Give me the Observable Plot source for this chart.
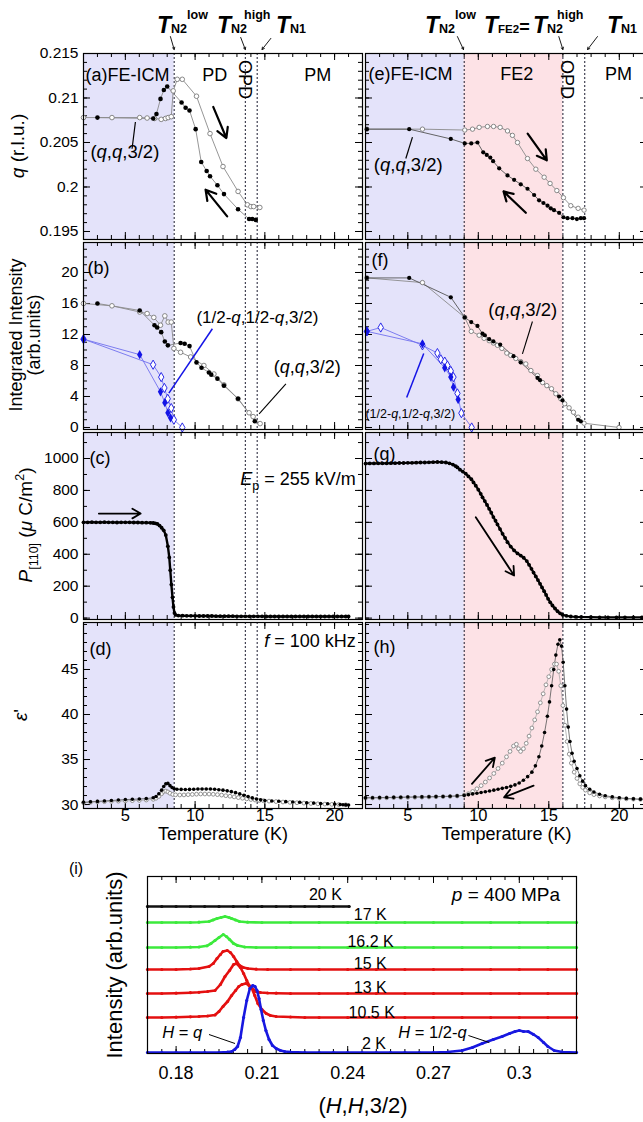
<!DOCTYPE html>
<html>
<head>
<meta charset="utf-8">
<script src="https://cdn.jsdelivr.net/npm/d3@7"></script>
<script src="https://cdn.jsdelivr.net/npm/@observablehq/plot@0.6"></script>
<style>
html, body { margin: 0; padding: 0; background: #fff; }
#fig { position: relative; width: 643px; height: 1122px; overflow: hidden; background: #fff; }
</style>
</head>
<body>
<div id="fig"></div>
<script>
const FONT = '"Liberation Sans", Arimo, Arial, Helvetica, sans-serif';

// ===== axis values / tick labels =====
const tempTicks = [5, 10, 15, 20];
const qTicks = [0.195, 0.2, 0.205, 0.21, 0.215];
const intTicks = [0, 4, 8, 12, 16, 20];
const polTicks = [0, 200, 400, 600, 800, 1000];
const epsTicks = [30, 35, 40, 45];
const hTicks = [0.18, 0.21, 0.24, 0.27, 0.3];

// ===== phase boundaries =====
const leftTransitions = [8.5, 13.6, 14.45];
const rightTransitions = [9.0, 16.0, 17.55];
const leftRegions = [{from: 2, to: 8.5, phase: "FE-ICM"}];
const rightRegions = [{from: 2, to: 9.0, phase: "FE-ICM"}, {from: 9.0, to: 16.0, phase: "FE2"}];
const leftPhaseLabels = [{t: 11.4, label: "PD"}, {t: 18.8, label: "PM"}];
const leftOPD = [{t: 14.03, label: "OPD"}];
const rightPhaseLabels = [{t: 12.73, label: "FE2"}, {t: 19.95, label: "PM"}];
const rightOPD = [{t: 16.78, label: "OPD"}];

// ===== (a) q vs T, ambient =====
const aOpen = [[2.0,0.2078],[4.04,0.2078],[6.03,0.2078],[6.56,0.20775],[7.09,0.2077],[7.57,0.2076],[7.88,0.2077],[8.07,0.2078],[8.29,0.2079],[8.43,0.2108],[8.72,0.2121],[9.08,0.2121],[10.1,0.2102],[11.07,0.2060],[12.0,0.2023],[13.08,0.1995],[13.75,0.1980],[14.0,0.1978],[14.2,0.1978],[14.64,0.1977]];
const aFilled = [[3.0,0.2078],[7.0,0.2077],[7.23,0.2082],[7.52,0.2099],[7.76,0.2109],[8.0,0.2113],[9.03,0.2095],[9.32,0.2089],[9.6,0.2086],[10.04,0.2065],[10.44,0.2028],[10.83,0.2018],[11.07,0.2012],[11.6,0.2002],[12.07,0.1992],[13.08,0.1975],[13.87,0.1964],[14.1,0.1964],[14.35,0.1963]];
// ===== (e) q vs T, 400 MPa =====
const eOpen = [[2.1,0.2065],[6.04,0.2065],[9.04,0.2064],[9.59,0.2065],[10.06,0.2067],[10.65,0.2068],[11.08,0.2068],[11.55,0.2067],[12.07,0.2063],[12.42,0.2058],[12.78,0.2050],[13.49,0.2032],[14.08,0.2020],[14.67,0.2011],[15.09,0.2004],[15.57,0.1996],[16.04,0.1988],[16.56,0.1979],[17.08,0.1976],[17.5,0.1974]];
const eFilled = [[2.1,0.2065],[5.1,0.2065],[8.05,0.2054],[9.04,0.2049],[9.5,0.2049],[9.94,0.2050],[10.35,0.2039],[10.6,0.2036],[10.85,0.2033],[11.05,0.2029],[11.48,0.2021],[12.07,0.2013],[12.54,0.2008],[13.01,0.2003],[13.49,0.1998],[13.96,0.1991],[14.31,0.1985],[14.62,0.1982],[14.91,0.1979],[15.14,0.1976],[15.37,0.1974],[15.73,0.1971],[16.04,0.1966],[16.33,0.1965],[16.68,0.1965],[16.99,0.1964],[17.27,0.1965],[17.5,0.1965]];

// ===== (b) integrated intensity, ambient =====
const bOpen = [[2.0,16.0],[4.04,15.7],[6.03,14.9],[6.56,14.7],[7.04,14.2],[7.52,13.2],[7.83,14.4],[8.07,13.6],[8.29,13.6],[8.48,10.2],[8.96,9.7],[9.68,9.1],[10.63,8.0],[11.35,6.9],[12.07,5.5],[13.08,3.7],[13.87,1.9],[14.16,1.4],[14.66,0.5]];
const bFilled = [[3.0,16.0],[6.03,15.1],[7.09,13.2],[7.28,12.9],[7.57,12.3],[7.83,11.1],[8.05,10.6],[8.96,10.9],[9.25,10.8],[9.6,10.5],[10.1,8.4],[10.46,7.7],[10.99,7.1],[11.16,6.8],[11.6,6.3],[12.07,5.4],[13.08,3.7],[14.28,0.8]];
const bBlueOpen = [[2.0,11.4],[6.99,8.1],[7.57,6.5],[7.8,5.1],[8.04,3.7],[8.29,2.5],[8.48,1.0],[9.08,0.0]];
const bBlueFilled = [[2.0,11.4],[6.03,9.4],[7.52,4.6],[7.83,3.2],[8.05,1.9],[8.24,1.25]];
// ===== (f) integrated intensity, 400 MPa =====
const fOpen = [[2.1,19.3],[6.04,18.7],[9.04,14.2],[9.5,12.4],[10.06,11.9],[10.41,11.5],[10.77,11.2],[11.07,10.9],[11.36,10.6],[11.67,10.2],[12.02,9.6],[12.3,9.3],[12.66,8.9],[13.01,8.5],[13.37,8.2],[13.73,7.35],[14.2,6.7],[14.56,5.8],[14.86,5.4],[15.19,5.0],[15.5,4.35],[15.85,3.7],[16.13,3.06],[16.44,2.54],[16.75,1.97],[17.08,1.33],[17.5,0.55],[19.98,0.0]];
const fFilled = [[2.1,19.3],[5.1,19.3],[8.05,16.8],[9.04,14.2],[9.5,13.6],[9.94,13.1],[10.3,12.1],[10.46,11.9],[10.77,11.4],[11.07,11.1],[11.55,10.7],[12.5,9.2],[13.01,8.4],[14.2,6.4],[14.38,6.1],[15.73,4.0],[15.97,3.5],[17.08,1.0],[17.27,0.8]];
const fBlueOpen = [[2.1,12.4],[3.08,12.9],[6.04,10.6],[7.1,9.6],[7.34,8.8],[7.62,8.5],[7.81,8.0],[8.05,7.3],[8.24,6.5],[8.52,4.4],[8.8,1.85],[9.53,0.0]];
const fBlueFilled = [[2.1,12.4],[6.04,10.8],[7.62,7.7],[8.05,6.5],[8.24,5.2],[8.57,3.6]];

// ===== (c) polarization, ambient =====
const cPol = [[2.0,600],[2.3,600],[2.6,601],[2.9,600],[3.2,600],[3.5,601],[3.8,600],[4.1,600],[4.4,599],[4.7,600],[5.0,600],[5.3,600],[5.6,599],[5.9,599],[6.2,598],[6.5,598],[6.8,597],[7.0,596],[7.15,594],[7.3,590],[7.45,580],[7.6,566],[7.75,550],[7.9,520],[8.05,450],[8.15,380],[8.22,300],[8.3,210],[8.38,130],[8.45,70],[8.52,32],[8.6,20],[8.8,16],[9.1,15],[9.4,14],[9.7,14],[10.0,14],[10.3,13],[10.6,13],[10.9,13],[11.2,13],[11.5,12],[11.8,12],[12.1,12],[12.4,12],[12.7,12],[13.0,11],[13.3,11],[13.6,11],[13.9,11],[14.2,11],[14.5,11],[14.8,11],[15.1,10],[15.4,10],[15.7,10],[16.0,10],[16.3,10],[16.6,10],[16.9,10],[17.2,10],[17.5,10],[17.8,10],[18.1,10],[18.4,10],[18.7,10],[19.0,10],[19.3,10],[19.6,10],[19.9,10],[20.2,10],[20.5,10],[20.8,10],[21.0,10]];
// ===== (g) polarization, 400 MPa =====
const gPol = [[2.0,968],[2.3,969],[2.6,969],[2.9,970],[3.2,970],[3.5,970],[3.8,971],[4.1,971],[4.4,972],[4.7,972],[5.0,973],[5.3,973],[5.6,974],[5.9,975],[6.2,975],[6.5,976],[6.8,977],[7.1,978],[7.4,977],[7.7,975],[7.95,970],[8.2,962],[8.4,952],[8.52,944],[8.7,930],[8.9,918],[9.11,905],[9.3,888],[9.51,870],[9.66,850],[9.82,830],[10.0,805],[10.17,779],[10.3,757],[10.46,733],[10.62,709],[10.77,685],[10.92,660],[11.07,633],[11.22,610],[11.36,587],[11.54,558],[11.72,528],[11.9,502],[12.07,476],[12.3,448],[12.54,424],[12.78,405],[13.01,392],[13.22,378],[13.44,357],[13.6,334],[13.77,309],[13.92,285],[14.08,261],[14.23,238],[14.38,215],[14.52,192],[14.67,169],[14.81,145],[14.95,121],[15.1,99],[15.26,79],[15.44,60],[15.62,43],[15.8,30],[15.97,21],[16.25,14],[16.56,10],[16.9,8],[17.3,7],[17.98,6],[18.6,5],[19.2,5],[19.8,5],[20.4,5],[21.0,5],[21.6,5],[22.0,5]];

// ===== (d) dielectric constant, ambient =====
const dFilled = [[2.0,30.25],[2.5,30.3],[3.0,30.35],[3.5,30.4],[4.0,30.45],[4.5,30.5],[5.0,30.55],[5.5,30.58],[6.0,30.62],[6.5,30.66],[7.0,30.75],[7.2,30.9],[7.4,31.2],[7.6,31.6],[7.75,32.0],[7.9,32.3],[8.05,32.35],[8.2,32.1],[8.35,31.9],[8.5,31.75],[8.7,31.7],[9.0,31.68],[9.3,31.67],[9.6,31.68],[9.9,31.7],[10.2,31.72],[10.5,31.73],[10.8,31.73],[11.1,31.72],[11.4,31.7],[11.7,31.65],[12.0,31.6],[12.3,31.52],[12.6,31.43],[12.9,31.32],[13.2,31.18],[13.5,31.03],[13.8,30.88],[14.1,30.74],[14.4,30.62],[14.7,30.52],[15.0,30.45],[15.5,30.4],[16.0,30.36],[16.5,30.32],[17.0,30.28],[17.5,30.25],[18.0,30.2],[18.5,30.16],[19.0,30.12],[19.5,30.08],[20.0,30.05],[20.4,30.0],[20.6,29.98],[20.8,29.96],[21.0,29.95]];
const dOpen = [[2.0,30.2],[2.5,30.25],[3.0,30.3],[3.5,30.32],[4.0,30.35],[4.5,30.38],[5.0,30.4],[5.5,30.43],[6.0,30.46],[6.5,30.5],[7.0,30.58],[7.2,30.7],[7.4,30.9],[7.6,31.2],[7.75,31.45],[7.9,31.5],[8.05,31.4],[8.2,31.25],[8.4,31.12],[8.6,31.08],[8.9,31.06],[9.2,31.07],[9.5,31.1],[9.8,31.12],[10.1,31.15],[10.4,31.17],[10.7,31.17],[11.0,31.16],[11.3,31.14],[11.6,31.1],[11.9,31.05],[12.2,30.98],[12.5,30.92],[12.8,30.85],[13.1,30.77],[13.4,30.7],[13.7,30.63],[14.0,30.56],[14.3,30.5],[14.6,30.45],[14.9,30.42],[15.3,30.38],[15.8,30.33],[16.3,30.28],[16.8,30.24],[17.3,30.2],[17.8,30.16],[18.3,30.12],[18.8,30.08],[19.3,30.05],[19.8,30.02],[20.3,30.0],[20.8,29.97]];
// ===== (h) dielectric constant, 400 MPa =====
const hFilled = [[2.0,30.75],[2.5,30.76],[3.0,30.77],[3.5,30.78],[4.0,30.8],[4.5,30.81],[5.0,30.83],[5.5,30.84],[6.0,30.85],[6.5,30.86],[7.0,30.88],[7.5,30.9],[8.0,30.92],[8.5,30.96],[9.0,31.02],[9.3,31.1],[9.6,31.18],[9.9,31.26],[10.2,31.34],[10.5,31.42],[10.8,31.5],[11.1,31.6],[11.4,31.7],[11.7,31.8],[12.0,31.9],[12.3,32.02],[12.6,32.18],[12.9,32.4],[13.2,32.7],[13.5,33.1],[13.8,33.6],[14.05,34.3],[14.3,35.3],[14.5,36.5],[14.7,38.0],[14.9,39.8],[15.05,41.4],[15.2,43.2],[15.35,45.0],[15.5,46.6],[15.65,47.8],[15.78,48.3],[15.9,47.6],[16.02,45.8],[16.14,43.2],[16.26,40.6],[16.38,38.6],[16.5,37.0],[16.65,35.7],[16.8,34.8],[17.0,34.0],[17.2,33.2],[17.4,32.6],[17.6,32.1],[17.9,31.7],[18.2,31.4],[18.6,31.15],[19.0,30.98],[19.5,30.85],[20.0,30.75],[20.5,30.68],[21.0,30.63],[21.5,30.6],[22.0,30.58]];
const hOpen = [[2.0,30.72],[2.5,30.73],[3.0,30.74],[3.5,30.75],[4.0,30.77],[4.5,30.78],[5.0,30.8],[5.5,30.81],[6.0,30.82],[6.5,30.84],[7.0,30.86],[7.5,30.88],[8.0,30.9],[8.5,30.95],[9.0,31.05],[9.3,31.2],[9.6,31.45],[9.9,31.75],[10.2,32.1],[10.5,32.5],[10.8,32.95],[11.1,33.45],[11.4,34.0],[11.7,34.6],[12.0,35.3],[12.25,35.9],[12.5,36.5],[12.7,36.7],[12.85,36.2],[13.0,35.9],[13.2,36.2],[13.4,36.8],[13.6,37.6],[13.8,38.5],[14.0,39.4],[14.2,40.3],[14.4,41.3],[14.6,42.3],[14.8,43.3],[15.0,44.2],[15.2,45.0],[15.4,45.6],[15.55,45.6],[15.7,44.8],[15.85,43.2],[16.0,41.0],[16.15,38.8],[16.3,37.0],[16.45,35.6],[16.6,34.6],[16.8,33.6],[17.0,32.9],[17.2,32.3],[17.4,31.9],[17.6,31.6],[17.9,31.3],[18.2,31.1],[18.6,30.95],[19.0,30.85],[19.5,30.75],[20.0,30.68],[20.5,30.63],[21.0,30.6],[21.5,30.58],[22.0,30.56]];

// ===== (i) (H,H,3/2) scans at p = 400 MPa =====
const scanLabels = ["20 K", "17 K", "16.2 K", "15 K", "13 K", "10.5 K", "2 K"];
const scan20K = [[0.170,0],[0.175,0],[0.180,0],[0.185,0],[0.190,0],[0.195,0],[0.200,0],[0.205,0],[0.210,0],[0.215,0],[0.220,0],[0.225,0],[0.230,0],[0.235,0],[0.2405,0]];
const scan17K = [[0.170,0],[0.175,0],[0.180,0],[0.185,0],[0.188,0.3],[0.1915,1],[0.1929,2.5],[0.1943,4],[0.1957,5],[0.1971,6],[0.1985,5],[0.1994,4],[0.2008,2.5],[0.2022,1],[0.205,0.3],[0.210,0],[0.220,0],[0.230,0],[0.240,0],[0.250,0],[0.260,0],[0.270,0],[0.280,0],[0.290,0],[0.300,0],[0.310,0],[0.320,0]];
const scan16K = [[0.170,0],[0.175,0],[0.180,0],[0.185,0.3],[0.188,0.5],[0.1908,1.7],[0.1922,4],[0.1936,7],[0.1950,10],[0.1965,13],[0.1976,11],[0.1987,8],[0.2001,4],[0.2015,2],[0.204,0.5],[0.208,0],[0.215,0],[0.220,0],[0.230,0],[0.240,0],[0.250,0],[0.260,0],[0.270,0],[0.280,0],[0.290,0],[0.300,0],[0.310,0],[0.320,0]];
const scan15K = [[0.170,0],[0.175,0],[0.180,0],[0.185,0.5],[0.188,1],[0.1915,3],[0.1930,6],[0.1943,11],[0.1955,15],[0.1964,18],[0.1979,19],[0.1990,17],[0.2001,13],[0.2012,8],[0.2022,4],[0.2035,2],[0.2051,1],[0.208,0.3],[0.212,0],[0.220,0],[0.230,0],[0.240,0],[0.250,0],[0.260,0],[0.270,0],[0.280,0],[0.290,0],[0.300,0],[0.310,0],[0.320,0]];
const scan13K = [[0.170,0],[0.175,0],[0.180,0.3],[0.185,0.8],[0.188,1.2],[0.191,2],[0.1936,3],[0.1955,9],[0.1971,17],[0.1987,23],[0.2001,29],[0.2012,30],[0.2025,26],[0.2036,20],[0.2047,13],[0.2058,7],[0.2070,4],[0.2079,2],[0.2095,1],[0.212,0.5],[0.215,0.3],[0.220,0],[0.230,0],[0.240,0],[0.250,0],[0.260,0],[0.270,0],[0.280,0],[0.290,0],[0.300,0],[0.310,0],[0.320,0]];
const scan10K = [[0.170,0],[0.175,0],[0.180,0.3],[0.185,0.7],[0.188,1],[0.191,1.5],[0.1936,2.5],[0.1950,6],[0.1964,11],[0.1980,16],[0.1994,22],[0.2008,27],[0.2019,31],[0.2030,33],[0.2044,34],[0.2055,32],[0.2065,29],[0.2075,22],[0.2086,14],[0.2100,8],[0.2115,4],[0.2130,2],[0.2150,1],[0.220,0.5],[0.225,0],[0.230,0],[0.240,0],[0.250,0],[0.260,0],[0.270,0],[0.280,0],[0.290,0],[0.300,0],[0.310,0],[0.320,0]];
const scan2K = [[0.170,0],[0.175,0],[0.180,0],[0.185,0],[0.190,0],[0.195,0],[0.198,0.5],[0.1994,1],[0.2005,3],[0.2015,6],[0.2025,15],[0.2036,35],[0.2047,52],[0.2058,64],[0.2068,67],[0.2076,66],[0.2083,62],[0.2090,54],[0.2097,43],[0.2105,32],[0.2114,22],[0.2125,13],[0.2137,7],[0.2150,4],[0.2165,2],[0.218,1],[0.220,0.5],[0.225,0],[0.230,0],[0.235,0],[0.240,0],[0.245,0],[0.250,0],[0.255,0],[0.260,0],[0.265,0],[0.270,0],[0.275,0.5],[0.280,2],[0.2836,5],[0.2870,9],[0.2909,13],[0.2940,16],[0.2966,19],[0.2985,21],[0.3000,22],[0.3015,21],[0.3031,21],[0.3050,18],[0.3066,15],[0.3085,10],[0.3100,6],[0.3122,2],[0.315,0.5],[0.320,0]];
const scans = [scan20K, scan17K, scan16K, scan15K, scan13K, scan10K, scan2K];
const scanOffsets = [147, 131, 106, 84, 60, 36, 1];
const scanColors = ["#111111", "#3cea3c", "#3cea3c", "#e41010", "#e41010", "#e41010", "#1818e0"];
const scanLabelPos = [[0.2322,159],[0.2479,139],[0.2480,112],[0.2479,90],[0.2479,66],[0.2484,41],[0.2492,10]];

// ===== annotation arrows / leader lines (data coordinates) =====
const aArrows = [{t1: 11.3, v1: 0.2090, t2: 12.24, v2: 0.2055}, {t1: 12.3, v1: 0.1967, t2: 10.75, v2: 0.1997}];
const eArrows = [{t1: 13.5, v1: 0.2060, t2: 14.86, v2: 0.2030}, {t1: 13.37, v1: 0.1971, t2: 11.79, v2: 0.1995}];
const cArrows = [{t1: 3.1, v1: 655, t2: 6.1, v2: 655}];
const gArrows = [{t1: 9.82, v1: 632, t2: 12.54, v2: 267}];
const hArrows = [{t1: 9.55, v1: 32.3, t2: 11.17, v2: 35.2}, {t1: 13.92, v1: 32.1, t2: 11.83, v2: 30.8}];
const topArrowsLeft = [{t1: 8.23, v1: 0.2169, t2: 8.5, v2: 0.21545}, {t1: 13.27, v1: 0.2168, t2: 13.6, v2: 0.21545}, {t1: 15.43, v1: 0.2167, t2: 14.8, v2: 0.21545}];
const topArrowsRight = [{t1: 8.52, v1: 0.2169, t2: 8.95, v2: 0.21545}, {t1: 15.71, v1: 0.2169, t2: 16.0, v2: 0.21545}, {t1: 18.45, v1: 0.2169, t2: 17.75, v2: 0.21545}];
const aLeaders = [{t1: 5.48, v1: 0.2043, t2: 5.72, v2: 0.2073}];
const eLeaders = [{t1: 4.86, v1: 0.2032, t2: 5.33, v2: 0.2056}];
const bBlueLeaders = [{t1: 11.24, v1: 12.74, t2: 8.12, v2: 4.43}];
const bLeaders = [{t1: 16.51, v1: 5.64, t2: 14.59, v2: 1.77}];
const fLeaders = [{t1: 13.84, v1: 13.68, t2: 13.13, v2: 9.5}];
const fBlueLeaders = [{t1: 6.13, v1: 9.55, t2: 4.92, v2: 3.87}];
const iLeaders = [{t1: 0.1915, v1: 19, t2: 0.2006, v2: 10}, {t1: 0.2822, v1: 18, t2: 0.2895, v2: 11}];

// ===== styling =====
const COL = {icm: "#e4e3fa", fe2: "#fde2e6", line: "#8a8a8a", open: "#7a7a7a", blue: "#1414e6", blueLine: "#7070ee"};
const fig = document.getElementById("fig");
const PAD = 70;
const rangeIn = (a, b, s) => d3.range(Math.ceil(a / s - 1e-6), Math.floor(b / s + 1e-6) + 1).map(k => +(k * s).toFixed(6));

function panel(o) {
  const fw = o.w, fh = o.h;
  const st = {stroke: "#000", strokeWidth: 1};
  const tx = (vals, len) => [
    Plot.tickX(vals, {x: d => d, insetTop: fh - len, ...st}),
    Plot.tickX(vals, {x: d => d, insetBottom: fh - len, ...st})
  ];
  const ty = (vals, len) => [
    Plot.tickY(vals, {y: d => d, insetRight: fw - len, ...st}),
    Plot.tickY(vals, {y: d => d, insetLeft: fw - len, ...st})
  ];
  const ticks = [];
  if (o.xMinor) ticks.push(...tx(o.xMinor, 4));
  if (o.xMajor) ticks.push(...tx(o.xMajor, 7));
  if (o.yMinor) ticks.push(...ty(o.yMinor, 4));
  if (o.yMajor) ticks.push(...ty(o.yMajor, 7));
  const labels = [];
  if (o.yLabels) labels.push(Plot.text(o.yMajor, {y: d => d, text: d => String(d), frameAnchor: "left", dx: -5, textAnchor: "end", fontSize: 15.5, fill: "#000"}));
  if (o.xLabels) labels.push(Plot.text(o.xLabels, {x: d => d, text: d => String(d), frameAnchor: "bottom", dy: o.xLabelDy || 12, fontSize: o.xLabelSize || 16.5, fill: "#000"}));
  if (o.xTitle) labels.push(Plot.text([o.xTitle], {text: d => d, frameAnchor: "bottom", dy: o.xTitleDy || 31, fontSize: o.xTitleSize || 18, fill: "#000"}));
  const regions = (o.regions || []).map(r => Plot.rect([r], {x1: "from", x2: "to", y1: o.y[0], y2: o.y[1], fill: r.phase === "FE2" ? COL.fe2 : COL.icm}));
  const rules = o.transitions ? [Plot.ruleX(o.transitions, {x: d => d, stroke: "#1a1a2e", strokeWidth: 1, strokeDasharray: "2,2"})] : [];
  const plot = Plot.plot({
    width: fw + 2 * PAD, height: fh + 2 * PAD,
    marginLeft: PAD, marginRight: PAD, marginTop: PAD, marginBottom: PAD,
    x: {domain: o.x, axis: null}, y: {domain: o.y, axis: null},
    marks: [...regions, ...rules, ...ticks, ...(o.marks || []), ...labels, Plot.frame({stroke: "#000", strokeWidth: 1.2})]
  });
  plot.setAttribute("style", `position:absolute;left:${o.left - PAD}px;top:${o.top - PAD}px;background:none;overflow:visible;max-width:none;height:auto;font-family:${FONT};`);
  fig.appendChild(plot);
  const sx = plot.scale("x"), sy = plot.scale("y");
  const X = d3.scaleLinear(sx.domain, sx.range), Y = d3.scaleLinear(sy.domain, sy.range);
  return {px: (t, v) => [o.left - PAD + X(t), o.top - PAD + Y(v)]};
}

const P = d => d[0], V = d => d[1];
const line = (data, stroke, w = 0.9) => Plot.line(data, {x: P, y: V, stroke, strokeWidth: w});
const dotsFilled = (data, r = 2.3, fill = "#000") => Plot.dot(data, {x: P, y: V, r, fill, stroke: "none"});
const dotsOpen = (data, r = 2.3, stroke = COL.open) => Plot.dot(data, {x: P, y: V, r, fill: "#fff", stroke, strokeWidth: 0.9});
const arrows = (data, w = 2.2, head = 9) => Plot.arrow(data, {x1: "t1", y1: "v1", x2: "t2", y2: "v2", stroke: "#000", strokeWidth: w, headLength: head});
const links = (data, stroke = "#000", w = 1.2) => Plot.link(data, {x1: "t1", y1: "v1", x2: "t2", y2: "v2", stroke, strokeWidth: w});
const label = (txt, dx, dy, size = 18) => Plot.text([txt], {text: d => d, frameAnchor: "top-left", textAnchor: "start", dx, dy, fontSize: size, fill: "#000"});
const phaseText = (data, dy, rotate = 0) => Plot.text(data, {x: "t", text: "label", frameAnchor: "top", dy, rotate, fontSize: 18, fill: "#000"});

const L = {left: 83, w: 279}, R = {left: 365, w: 282};
const rows = {a: {top: 53, h: 186}, b: {top: 242, h: 187}, c: {top: 432, h: 187}, d: {top: 622, h: 186}};
const dom = {a: [0.1941, 0.215], b: [-0.26, 23.87], c: [-8.8, 1163], d: [29.56, 50.22]};
const tMinor = rangeIn(2, 22, 1);
const minors = {a: rangeIn(0.1941, 0.215, 0.001), b: rangeIn(0, 23.87, 1), c: rangeIn(0, 1163, 100), d: rangeIn(29.56, 50.22, 1)};

// ----- (a)
const pa = panel({...L, ...rows.a, x: [2, 22], y: dom.a, regions: leftRegions, transitions: leftTransitions,
  xMajor: tempTicks, xMinor: tMinor, yMajor: qTicks, yMinor: minors.a, yLabels: true,
  marks: [line(aOpen, COL.line), line(aFilled, COL.line), dotsOpen(aOpen), dotsFilled(aFilled),
    arrows(aArrows), links(aLeaders), arrows(topArrowsLeft, 0.9, 4),
    label("(a)FE-ICM", 2, 14.5), phaseText(leftPhaseLabels, 14.5), phaseText(leftOPD, 26, 90)]});
// ----- (e)
const pe = panel({...R, ...rows.a, x: [2, 22], y: dom.a, regions: rightRegions, transitions: rightTransitions,
  xMajor: tempTicks, xMinor: tMinor, yMajor: qTicks, yMinor: minors.a,
  marks: [line(eOpen, COL.line), line(eFilled, "#555"), dotsOpen(eOpen, 2.2), dotsFilled(eFilled, 2.1),
    arrows(eArrows), links(eLeaders), arrows(topArrowsRight, 0.9, 4),
    label("(e)FE-ICM", 3, 13.5), phaseText(rightPhaseLabels, 13.5), phaseText(rightOPD, 26, 90)]});
// ----- (b)
const pb = panel({...L, ...rows.b, x: [2, 22], y: dom.b, regions: leftRegions, transitions: leftTransitions,
  xMajor: tempTicks, xMinor: tMinor, yMajor: intTicks, yMinor: minors.b, yLabels: true,
  marks: [line(bOpen, COL.line), line(bFilled, COL.line), line(bBlueOpen, COL.blueLine), line(bBlueFilled, COL.blueLine),
    dotsOpen(bOpen), dotsFilled(bFilled),
    Plot.dot(bBlueOpen, {x: P, y: V, r: 2.8, symbol: "diamond", fill: "#fff", stroke: COL.blue, strokeWidth: 0.9}),
    Plot.dot(bBlueFilled, {x: P, y: V, r: 2.8, symbol: "diamond", fill: COL.blue}),
    links(bBlueLeaders, COL.blue, 1.5), links(bLeaders, "#000", 1.1), label("(b)", 4, 19)]});
// ----- (f)
const pf = panel({...R, ...rows.b, x: [2, 22], y: dom.b, regions: rightRegions, transitions: rightTransitions,
  xMajor: tempTicks, xMinor: tMinor, yMajor: intTicks, yMinor: minors.b,
  marks: [line(fOpen, COL.line), line(fFilled, "#555"), line(fBlueOpen, COL.blueLine), line(fBlueFilled, COL.blueLine),
    dotsOpen(fOpen, 2.2), dotsFilled(fFilled, 2.1),
    Plot.dot(fBlueOpen, {x: P, y: V, r: 2.8, symbol: "diamond", fill: "#fff", stroke: COL.blue, strokeWidth: 0.9}),
    Plot.dot(fBlueFilled, {x: P, y: V, r: 2.8, symbol: "diamond", fill: COL.blue}),
    links(fBlueLeaders, COL.blue, 1.5), links(fLeaders, "#000", 1.1), label("(f)", 6, 11)]});
// ----- (c)
const pc = panel({...L, ...rows.c, x: [2, 22], y: dom.c, regions: leftRegions, transitions: leftTransitions,
  xMajor: tempTicks, xMinor: tMinor, yMajor: polTicks, yMinor: minors.c, yLabels: true,
  marks: [line(cPol, "#000", 2.4), dotsFilled(cPol, 1.9), arrows(cArrows, 1.8, 8), label("(c)", 6, 19)]});
// ----- (g)
const pg = panel({...R, ...rows.c, x: [2, 22], y: dom.c, regions: rightRegions, transitions: rightTransitions,
  xMajor: tempTicks, xMinor: tMinor, yMajor: polTicks, yMinor: minors.c,
  marks: [line(gPol, "#000", 2.2), dotsFilled(gPol, 1.9), arrows(gArrows, 1.8, 8), label("(g)", 8, 15)]});
// ----- (d)
const pd = panel({...L, ...rows.d, x: [2, 22], y: dom.d, regions: leftRegions, transitions: leftTransitions,
  xMajor: tempTicks, xMinor: tMinor, yMajor: epsTicks, yMinor: minors.d, yLabels: true,
  xLabels: tempTicks, xTitle: "Temperature (K)",
  marks: [line(dOpen, "#aaa", 0.8), line(dFilled, "#555", 0.8), dotsOpen(dOpen, 1.9, "#888"), dotsFilled(dFilled, 1.8), label("(d)", 6, 20)]});
// ----- (h)
const ph = panel({...R, ...rows.d, x: [2, 22], y: dom.d, regions: rightRegions, transitions: rightTransitions,
  xMajor: tempTicks, xMinor: tMinor, yMajor: epsTicks, yMinor: minors.d,
  xLabels: tempTicks, xTitle: "Temperature (K)",
  marks: [line(hOpen, "#aaa", 0.8), line(hFilled, "#555", 0.8), dotsOpen(hOpen, 1.9, "#888"), dotsFilled(hFilled, 1.8),
    arrows(hArrows, 1.8, 8), label("(h)", 8, 18)]});
// ----- (i)
const scanMarks = [];
scans.forEach((s, k) => {
  const off = scanOffsets[k], c = scanColors[k];
  scanMarks.push(Plot.line(s, {x: P, y: d => d[1] + off, stroke: c, strokeWidth: 2.6}));
  scanMarks.push(Plot.dot(s, {x: P, y: d => d[1] + off, r: 1.6, fill: c}));
});
const scanText = Plot.text(scanLabels, {x: (d, i) => scanLabelPos[i][0], y: (d, i) => scanLabelPos[i][1], text: d => d, fontSize: 16, fill: "#000"});
const pi = panel({left: 147, top: 876, w: 429, h: 177, x: [0.17, 0.32], y: [0, 177],
  xMajor: hTicks, xMinor: rangeIn(0.17, 0.32, 0.005), xLabels: hTicks, xLabelDy: 25, xLabelSize: 18,
  xTitle: null,
  marks: [...scanMarks, scanText, links(iLeaders, "#000", 1)]});

// ===== overlay text (rich: italics, sub/superscripts) =====
const ov = d3.select(fig).append("svg").attr("width", 643).attr("height", 1122)
  .attr("style", `position:absolute;left:0;top:0;overflow:visible;font-family:${FONT};`);
function rich(x, y, segs, o = {}) {
  const size = o.size || 16;
  const text = ov.append("text")
    .attr("transform", `translate(${x},${y})${o.rotate ? ` rotate(${o.rotate})` : ""}`)
    .attr("font-size", size).attr("text-anchor", o.anchor || "start").attr("fill", "#000");
  if (o.bold) text.attr("font-weight", "bold");
  let cur = 0;
  for (const s of segs) {
    const seg = typeof s === "string" ? {t: s} : s;
    const sp = text.append("tspan").text(seg.t);
    if (seg.it) sp.attr("font-style", "italic");
    let off = 0;
    if (seg.sub) { off = seg.off ?? size * 0.3; sp.attr("font-size", seg.size ?? size * 0.7); }
    else if (seg.sup) { off = seg.off ?? -size * 0.42; sp.attr("font-size", seg.size ?? size * 0.7); }
    else if (seg.size) sp.attr("font-size", seg.size);
    if (off !== cur) sp.attr("dy", off - cur);
    if (seg.dx) sp.attr("dx", seg.dx);
    cur = off;
  }
  return text;
}
const qq = [ "(", {t: "q", it: true}, ",", {t: "q", it: true}, ",3/2)" ];
const hq = [ "(1/2-", {t: "q", it: true}, ",1/2-", {t: "q", it: true}, ",3/2)" ];
const at = (p, t, v, size) => { const [x, y] = p.px(t, v); return [x, y + size * 0.35]; };
{ const [x, y] = at(pa, 5.0, 0.2039, 18.5); rich(x, y, qq, {size: 18.5, anchor: "middle"}); }
{ const [x, y] = at(pe, 5.07, 0.20242, 18.5); rich(x, y, qq, {size: 18.5, anchor: "middle"}); }
{ const [x, y] = at(pb, 14.5, 14.2, 17); rich(x, y, hq, {size: 17, anchor: "middle"}); }
{ const [x, y] = at(pb, 18.08, 7.78, 18); rich(x, y, qq, {size: 18, anchor: "middle"}); }
{ const [x, y] = at(pf, 13.19, 15.1, 18.5); rich(x, y, qq, {size: 18.5, anchor: "middle"}); }
{ const [x, y] = at(pf, 5.21, 1.77, 12.5); rich(x, y, hq, {size: 12.5, anchor: "middle"}); }
{ const [x, y] = at(pc, 21.55, 870, 18); rich(x, y, [{t: "E", it: true}, {t: "p", sub: true}, " = 255 kV/m"], {size: 18, anchor: "end"}); }
{ const [x, y] = at(pd, 21.55, 48.1, 18); rich(x, y, [{t: "f", it: true}, " = 100 kHz"], {size: 18, anchor: "end"}); }
{ const [x, y] = at(pi, 0.2955, 159, 19); rich(x, y, [{t: "p", it: true}, " = 400 MPa"], {size: 19, anchor: "middle"}); }
{ const [x, y] = at(pi, 0.1823, 21, 16.5); rich(x, y, [{t: "H", it: true}, " = ", {t: "q", it: true}], {size: 16.5, anchor: "middle"}); }
{ const [x, y] = at(pi, 0.2698, 21, 16.5); rich(x, y, [{t: "H", it: true}, " = 1/2-", {t: "q", it: true}], {size: 16.5, anchor: "middle"}); }

// axis titles
rich(24, 146, [{t: "q", it: true}, " (r.l.u.)"], {size: 19, anchor: "middle", rotate: -90});
rich(22, 335, ["Integrated Intensity"], {size: 18, anchor: "middle", rotate: -90});
rich(40, 335, ["(arb.units)"], {size: 18, anchor: "middle", rotate: -90});
rich(32, 525, [{t: "P", it: true}, {t: "[110]", sub: true, size: 12.5}, " (", {t: "\u03bc", it: true}, " C/m", {t: "2", sup: true, size: 12.5}, ")"], {size: 19, anchor: "middle", rotate: -90});
rich(27, 715, [{t: "\u03b5", it: true}, "'"], {size: 19, anchor: "middle", rotate: -90});
rich(122, 965, ["Intensity (arb.units)"], {size: 22, anchor: "middle", rotate: -90});
rich(363, 1113, ["(", {t: "H", it: true}, ",", {t: "H", it: true}, ",3/2)"], {size: 22, anchor: "middle"});
rich(76, 874, ["(i)"], {size: 16, anchor: "middle"});

// transition temperature labels (top)
const TN = (x, sub, sup, supDx) => rich(x, 33, [{t: "T", it: true}, {t: sub, sub: true, size: 12.5, off: 0}].concat(sup ? [{t: sup, sup: true, size: 12.5, off: -14, dx: supDx || 0}] : []), {size: 23, bold: true});
TN(157, "N2", "low");
TN(217, "N2", "high", -3);
TN(276, "N1");
TN(425, "N2", "low");
rich(484, 33, [{t: "T", it: true}, {t: "FE2", sub: true, size: 11.5, off: 0}, {t: "=", size: 18}], {size: 23, bold: true});
TN(533, "N2", "high", -6);
TN(607, "N1");
</script>
</body>
</html>
